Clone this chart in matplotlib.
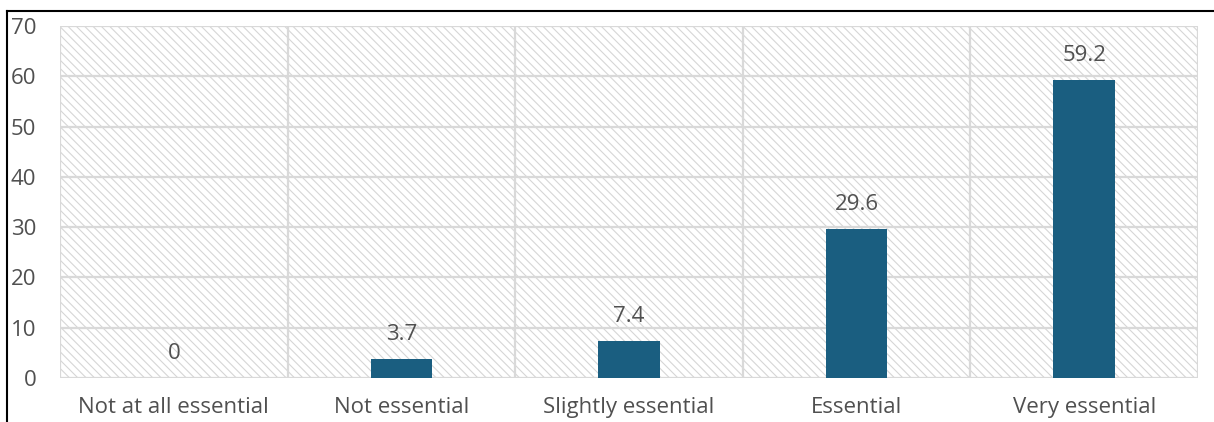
import matplotlib
matplotlib.use("Agg")
import matplotlib.pyplot as plt
from matplotlib.patches import Rectangle
from matplotlib.lines import Line2D
import numpy as np

categories = ["Not at all essential", "Not essential", "Slightly essential", "Essential", "Very essential"]
values = [0, 3.7, 7.4, 29.6, 59.2]
value_labels = ["0", "3.7", "7.4", "29.6", "59.2"]
y_ticks = [0, 10, 20, 30, 40, 50, 60, 70]

plt.rcParams['font.family'] = ['Open Sans', 'DejaVu Sans']
plt.rcParams['hatch.linewidth'] = 0.8
plt.rcParams['hatch.color'] = '#d6d6d6'

text_color = '#505050'
grid_color = '#d9d9d9'
bar_color = '#1a5e80'
fs = 16

fig = plt.figure(figsize=(12.14, 4.22), dpi=100)
ax = fig.add_axes([60 / 1214, 44 / 422, 1138 / 1214, 352 / 422])

x = np.arange(len(categories))
ax.set_xlim(-0.5, len(categories) - 0.5)
ax.set_ylim(0, 70)

# hatched plot background
bg = Rectangle((0, 0), 1, 1, transform=ax.transAxes, facecolor='white',
               edgecolor='#d6d6d6', hatch='\\\\\\\\', lw=0, zorder=0)
ax.add_patch(bg)

for yv in y_ticks:
    ax.axhline(yv, color=grid_color, lw=1.6, zorder=1)
for xv in np.arange(-0.5, len(categories), 1.0):
    ax.axvline(xv, color=grid_color, lw=1.6, zorder=1)

ax.bar(x, values, width=0.27, color=bar_color, zorder=2)

for xi, v, lab in zip(x, values, value_labels):
    ax.annotate(lab, (xi, v), xytext=(0, 14), textcoords='offset pixels',
                ha='center', va='bottom', fontsize=fs, color=text_color)

for s in ax.spines.values():
    s.set_visible(False)

ax.set_yticks(y_ticks)
ax.set_yticklabels([str(t) for t in y_ticks], fontsize=fs, color=text_color)
ax.set_xticks(x)
ax.set_xticklabels(categories, fontsize=fs, color=text_color)
ax.tick_params(axis='y', length=0, pad=17)
ax.tick_params(axis='x', length=0, pad=14)

# cropped border lines of the original figure
fig.add_artist(Line2D([7 / 1214, 1], [1 - 11 / 422, 1 - 11 / 422], color='black', lw=1.5))
fig.add_artist(Line2D([7 / 1214, 7 / 1214], [0, 1 - 11 / 422], color='black', lw=1.5))

fig.savefig("out.png", dpi=100)
